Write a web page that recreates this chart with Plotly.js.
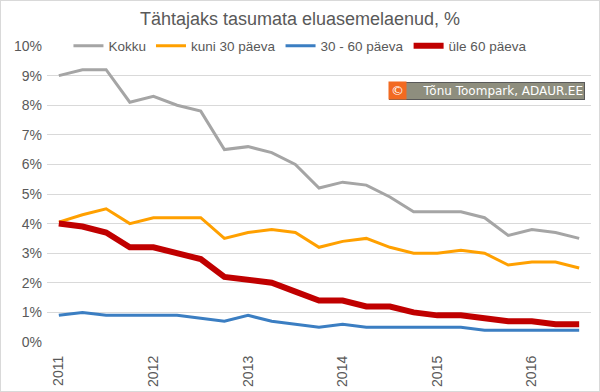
<!DOCTYPE html>
<html>
<head>
<meta charset="utf-8">
<script src="https://cdn.plot.ly/plotly-3.0.1.min.js"></script>
<style>
html,body{margin:0;padding:0;background:#fff;}
#chart{width:600px;height:392px;box-sizing:border-box;border:1px solid #d9d9d9;}
</style>
</head>
<body>
<div id="chart"></div>
<script>
const quarters = ['2011 I','2011 II','2011 III','2011 IV','2012 I','2012 II','2012 III','2012 IV',
  '2013 I','2013 II','2013 III','2013 IV','2014 I','2014 II','2014 III','2014 IV',
  '2015 I','2015 II','2015 III','2015 IV','2016 I','2016 II','2016 III'];
const yearTicks = ['2011 I','2012 I','2013 I','2014 I','2015 I','2016 I'];
const yearLabels = ['2011','2012','2013','2014','2015','2016'];
const seriesNames = ['Kokku','kuni 30 päeva','30 - 60 päeva','üle 60 päeva'];
const kokku = [9.0,9.2,9.2,8.1,8.3,8.0,7.8,6.5,6.6,6.4,6.0,5.2,5.4,5.3,4.9,4.4,4.4,4.4,4.2,3.6,3.8,3.7,3.5];
const kuni30 = [4.05,4.3,4.5,4.0,4.2,4.2,4.2,3.5,3.7,3.8,3.7,3.2,3.4,3.5,3.2,3.0,3.0,3.1,3.0,2.6,2.7,2.7,2.5];
const p30_60 = [0.9,1.0,0.9,0.9,0.9,0.9,0.8,0.7,0.9,0.7,0.6,0.5,0.6,0.5,0.5,0.5,0.5,0.5,0.4,0.4,0.4,0.4,0.4];
const yle60 = [4.0,3.9,3.7,3.2,3.2,3.0,2.8,2.2,2.1,2.0,1.7,1.4,1.4,1.2,1.2,1.0,0.9,0.9,0.8,0.7,0.7,0.6,0.6];
const yTicks = [0,1,2,3,4,5,6,7,8,9,10];
const yTickLabels = ['0%','1%','2%','3%','4%','5%','6%','7%','8%','9%','10%'];

const colors = ['#a5a5a5','#ffa000','#3b7ec2','#c00000'];
const widths = [3,3,3,6];
const vals = [kokku,kuni30,p30_60,yle60];

const traces = vals.map((v,i)=>({
  type:'scatter', mode:'lines', x:quarters, y:v, name:seriesNames[i],
  line:{color:colors[i], width:widths[i]}
}));

const ay = (342-91)/296;
const layout = {
  width:598, height:390,
  margin:{l:46, r:8, t:45, b:49},
  paper_bgcolor:'#fff', plot_bgcolor:'#fff',
  font:{family:'Liberation Sans, Arial, sans-serif', size:13, color:'#595959'},
  title:{text:'Tähtajaks tasumata eluasemelaenud, %', x:0.5, xanchor:'center', y:0.955, yanchor:'middle',
    font:{size:18, color:'#595959', family:'Liberation Sans, Arial, sans-serif'}},
  showlegend:true,
  legend:{orientation:'h', x:0.465, xanchor:'center', y:1, yanchor:'middle', bgcolor:'#fff',
    font:{size:13.5, color:'#595959'}, itemwidth:30, tracegroupgap:0},
  xaxis:{type:'category', categoryorder:'array', categoryarray:quarters,
    tickmode:'array', tickvals:yearTicks, ticktext:yearLabels, tickangle:-90,
    showgrid:false, zeroline:false, showline:false, ticks:'', range:[-0.5, quarters.length-0.5],
    ticklabelstandoff:10,
    tickfont:{size:14, color:'#595959'}},
  yaxis:{range:[0,10], tickmode:'array', tickvals:yTicks, ticktext:yTickLabels,
    showgrid:true, gridcolor:'#d9d9d9', gridwidth:1, zeroline:false, showline:false, ticks:'',
    ticklabelstandoff:4,
    tickfont:{size:14, color:'#595959'}},
  annotations:[
    {xref:'paper', yref:'paper', x:(584-47)/543, y:ay, xanchor:'right', yanchor:'middle',
     text:'Tõnu Toompark, ADAUR.EE', showarrow:false, width:192, align:'right',
     bgcolor:'#8e8e7e', bordercolor:'#595959', borderwidth:1, borderpad:1,
     font:{family:'DejaVu Sans, sans-serif', size:12, color:'#ffffff'}},
    {xref:'paper', yref:'paper', x:(387-47)/543, y:ay, xanchor:'left', yanchor:'middle',
     text:'©', showarrow:false, bgcolor:'#f26a21', borderpad:1, width:15,
     font:{family:'DejaVu Sans, sans-serif', size:13, color:'#ffffff'}}
  ]
};
Plotly.newPlot('chart', traces, layout, {displayModeBar:false, staticPlot:true});
</script>
</body>
</html>
